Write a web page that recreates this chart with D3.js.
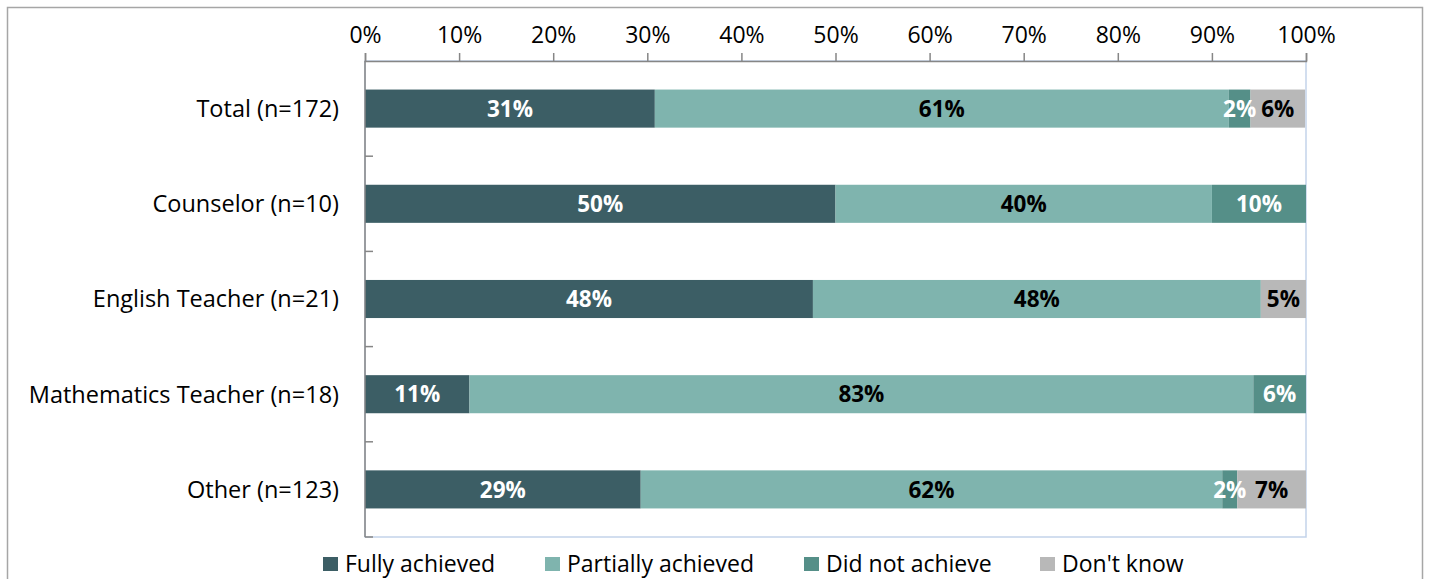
<!DOCTYPE html>
<html><head><meta charset="utf-8">
<script src="https://cdn.jsdelivr.net/npm/d3@7"></script>
<style>
html,body{margin:0;padding:0;background:#fff;}
svg{display:block;font-family:"Open Sans",sans-serif;}
</style></head>
<body>
<svg id="chart" width="1429" height="579"></svg>
<script>
const categories = ["Total (n=172)", "Counselor (n=10)", "English Teacher (n=21)", "Mathematics Teacher (n=18)", "Other (n=123)"];
const seriesNames = ["Fully achieved", "Partially achieved", "Did not achieve", "Don't know"];
const fullyAchieved     = [30.8, 50, 47.6, 11.1, 29.3];
const partiallyAchieved = [61.0, 40, 47.6, 83.3, 61.8];
const didNotAchieve     = [2.3, 10, 0, 5.6, 1.6];
const dontKnow          = [5.8, 0, 4.8, 0, 7.3];
const tickValues = [0,10,20,30,40,50,60,70,80,90,100];

const colors = ["#3c5e65", "#7fb4ae", "#558f88", "#b8b8b8"];
const labelColors = ["#ffffff", "#000000", "#ffffff", "#000000"];
const FS = 23;

const svg = d3.select("#chart");
const pLeft = 365, pRight = 1306, pTop = 61, pBottom = 537;

// outer border
svg.append("rect").attr("x", 7.5).attr("y", 7.5).attr("width", 1415).attr("height", 600)
  .attr("fill", "none").attr("stroke", "#a6a6a6").attr("stroke-width", 1.5);

const x = d3.scaleLinear().domain([0, 100]).range([pLeft, pRight]);
const y = d3.scaleBand().domain(categories).range([pTop, pBottom]).paddingInner(0.6).paddingOuter(0.3);

// plot area border (light blue)
svg.append("rect").attr("x", pLeft).attr("y", pTop).attr("width", pRight - pLeft).attr("height", pBottom - pTop)
  .attr("fill", "none").attr("stroke", "#c3d3ea").attr("stroke-width", 1.5);

const seriesValues = [fullyAchieved, partiallyAchieved, didNotAchieve, dontKnow];
const rows = categories.map((c, i) => {
  const o = {cat: c};
  seriesNames.forEach((s, k) => o[s] = seriesValues[k][i]);
  return o;
});
const stacked = d3.stack().keys(seriesNames)(rows);

stacked.forEach((layer, k) => {
  const g = svg.append("g");
  g.selectAll("rect").data(layer).join("rect")
    .attr("x", d => x(d[0]))
    .attr("y", d => y(d.data.cat))
    .attr("width", d => x(d[1]) - x(d[0]))
    .attr("height", y.bandwidth())
    .attr("fill", colors[k]);
});
stacked.forEach((layer, k) => {
  svg.append("g").selectAll("text").data(layer.filter(d => d[1] - d[0] > 0)).join("text")
    .attr("x", d => (x(d[0]) + x(d[1])) / 2)
    .attr("y", d => y(d.data.cat) + y.bandwidth() / 2)
    .attr("dy", "0.36em")
    .attr("text-anchor", "middle")
    .attr("font-size", FS - 0.5).attr("font-weight", "bold")
    .attr("fill", labelColors[k])
    .text(d => Math.round(d[1] - d[0]) + "%");
});

// top axis
const xAxis = d3.axisTop(x).tickValues(tickValues).tickFormat(d => d + "%").tickSize(8).tickPadding(10);
const gx = svg.append("g").attr("transform", `translate(0,${pTop})`).call(xAxis);
gx.select(".domain").attr("stroke", "#868686").attr("stroke-width", 1.5);
gx.selectAll(".tick line").attr("stroke", "#868686").attr("stroke-width", 1.5);
gx.selectAll(".tick text").attr("font-size", FS).attr("fill", "#000").attr("font-family", "Open Sans");

// left axis
svg.append("line").attr("x1", pLeft).attr("x2", pLeft).attr("y1", pTop).attr("y2", pBottom)
  .attr("stroke", "#868686").attr("stroke-width", 1.5);
const boundaries = categories.map(c => y(c) - y.step() * y.paddingInner() / 2).slice(1).concat([pBottom]);
svg.append("g").selectAll("line").data(boundaries).join("line")
  .attr("x1", pLeft).attr("x2", pLeft + 8).attr("y1", d => d).attr("y2", d => d)
  .attr("stroke", "#868686").attr("stroke-width", 1.5);
svg.append("g").selectAll("text").data(categories).join("text")
  .attr("x", pLeft - 26)
  .attr("y", d => y(d) + y.bandwidth() / 2)
  .attr("dy", "0.36em")
  .attr("text-anchor", "end")
  .attr("font-size", FS + 0.5).attr("fill", "#000")
  .text(d => d);

// legend
const legendX = [323, 545, 804, 1040];
const lg = svg.append("g");
seriesNames.forEach((s, k) => {
  lg.append("rect").attr("x", legendX[k]).attr("y", 557).attr("width", 15).attr("height", 14).attr("fill", colors[k]);
  lg.append("text").attr("x", legendX[k] + 22).attr("y", 564).attr("dy", "0.36em")
    .attr("font-size", FS).attr("fill", "#000").text(s);
});
</script>
</body></html>
